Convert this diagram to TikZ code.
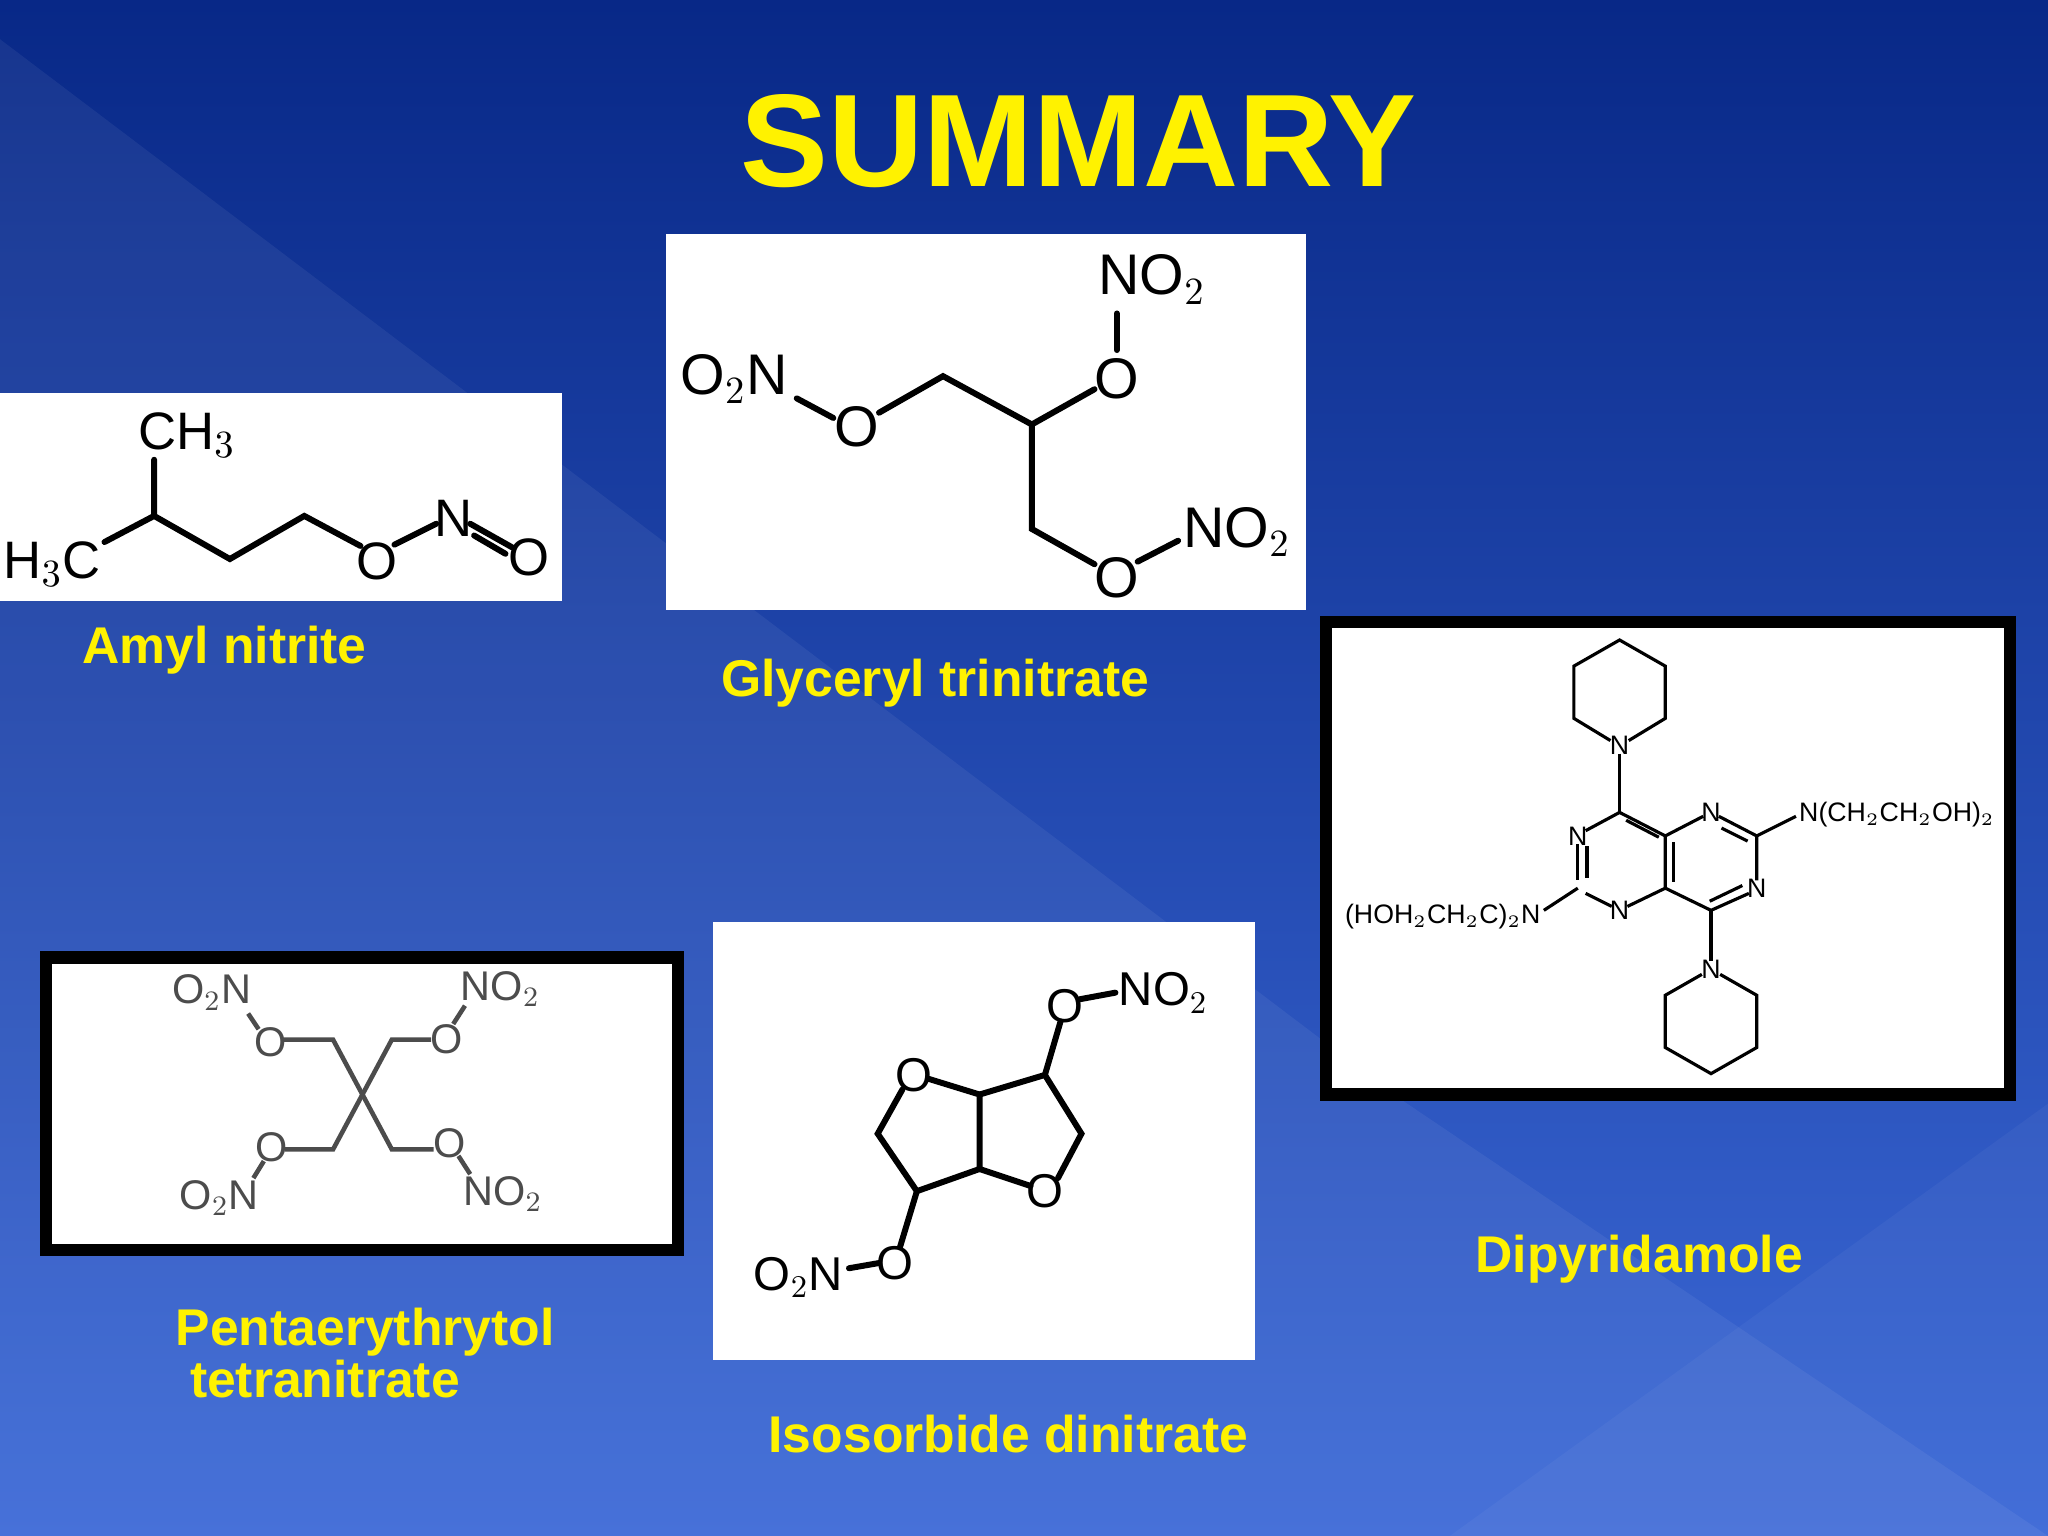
\documentclass[tikz,border=0pt]{standalone}
\usepackage{fontspec}
\setmainfont{Liberation Sans}
\begin{document}
\begin{tikzpicture}[x=0.013061cm,y=-0.013061cm,
 lbl/.style={text=yellow,font=\bfseries\fontsize{14.7}{17}\selectfont,align=left},
 at1/.style={inner sep=0pt,font=\fontsize{15}{17}\selectfont},
 at5/.style={inner sep=0pt,font=\fontsize{13.5}{15}\selectfont},
 at2/.style={inner sep=0pt,font=\fontsize{16.3}{18}\selectfont},
 at3/.style={inner sep=0pt,font=\fontsize{7.6}{9}\selectfont},
 at4/.style={inner sep=0pt,text=black!70,font=\fontsize{11.8}{13}\selectfont},
 bd/.style={line width=1.7pt,line cap=round},
 bd3/.style={line width=0.9pt},
 bd4/.style={line width=1.3pt,black!70}]
\useasboundingbox (0,0) rectangle (1568,1176);
\shade[top color={rgb,255:red,8;green,40;blue,135},bottom color={rgb,255:red,60;green,105;blue,215}] (0,0) rectangle (1568,1176);
\fill[white,opacity=0.06] (0,30) -- (1070,840) -- (1568,1176) -- (0,1176) -- cycle;
\fill[white,opacity=0.04] (1568,845) -- (1110,1176) -- (1568,1176) -- cycle;
\node[text=yellow,font=\bfseries\fontsize{37.5}{40}\selectfont] (title) at (826,108) {SUMMARY};

% Amyl nitrite
\fill[white] (0,301) rectangle (430,460);
\node[at1] (a1) at (40,432) {H$_3$C};
\node[at1] (a2) at (143,333) {CH$_3$};
\node[at1] (a3) at (289,430) {O};
\node[at1] (a4) at (347,397) {N};
\node[at1] (a5) at (405,427) {O};
\draw[bd] (80,415) -- (118,395) -- (118,352);
\draw[bd] (118,395) -- (176,428) -- (233,395) -- (276,418);
\draw[bd] (302,417) -- (334,401);
\draw[bd] (360,401) -- (392,419);
\draw[bd] (363,410) -- (387,424);
\node[lbl] (l1) at (172,498) {Amyl nitrite};

% Glyceryl trinitrate
\fill[white] (510,179) rectangle (1000,467);
\node[at2] (g1) at (562,290) {O$_2$N};
\node[at2] (g2) at (656,327) {O};
\node[at2] (g3) at (855,290) {O};
\node[at2] (g4) at (882,214) {NO$_2$};
\node[at2] (g5) at (855,442) {O};
\node[at2] (g6) at (947,407) {NO$_2$};
\draw[bd] (610,305) -- (638,320);
\draw[bd] (673,316) -- (722,288) -- (790,325) -- (838,298);
\draw[bd] (855,268) -- (855,240);
\draw[bd] (790,325) -- (790,405) -- (838,432);
\draw[bd] (871,430) -- (902,414);
\node[lbl] (l2) at (716,523) {Glyceryl trinitrate};

% Dipyridamole
\draw[line width=3.5pt,fill=white] (1015,476) rectangle (1539,838);
\node[at3] (d1) at (1240,571) {N};
\node[at3] (d2) at (1310,742) {N};
\node[at3] (d3) at (1208,640) {N};
\node[at3] (d4) at (1240,697) {N};
\node[at3] (d5) at (1310,622) {N};
\node[at3] (d6) at (1345,680) {N};
\node[at3,anchor=west] (d7) at (1377,624) {N(CH$_2$CH$_2$OH)$_2$};
\node[at3,anchor=east] (d8) at (1180,702) {(HOH$_2$CH$_2$C)$_2$N};
\draw[bd3] (1233,567) -- (1205,550) -- (1205,510) -- (1240,490) -- (1275,510) -- (1275,550) -- (1247,567);
\draw[bd3] (1240,577) -- (1240,622);
\draw[bd3] (1303,746) -- (1275,762) -- (1275,802) -- (1310,822) -- (1345,802) -- (1345,762) -- (1317,746);
\draw[bd3] (1310,736) -- (1310,697);
\draw[bd3] (1214,636) -- (1240,622) -- (1275,640) -- (1275,680) -- (1246,694);
\draw[bd3] (1208,646) -- (1208,674);
\draw[bd3] (1214,684) -- (1234,694);
\draw[bd3] (1275,640) -- (1304,625);
\draw[bd3] (1316,625) -- (1345,640) -- (1345,674);
\draw[bd3] (1339,684) -- (1310,697) -- (1275,680);
\draw[bd3] (1345,640) -- (1375,625);
\draw[bd3] (1208,680) -- (1182,697);
\draw[bd3] (1245,628) -- (1270,641);
\draw[bd3] (1215,648) -- (1215,672);
\draw[bd3] (1281,675) -- (1281,645);
\draw[bd3] (1318,634) -- (1338,644);
\draw[bd3] (1309,690) -- (1334,678);
\node[lbl] (l3) at (1255,964) {Dipyridamole};

% PETN
\draw[line width=3.5pt,fill=white] (35,733) rectangle (519,957);
\node[at4] (p1) at (162,760) {O$_2$N};
\node[at4] (p2) at (207,798) {O};
\node[at4] (p3) at (383,757) {NO$_2$};
\node[at4] (p4) at (342,796) {O};
\node[at4] (p5) at (208,878) {O};
\node[at4] (p6) at (168,917) {O$_2$N};
\node[at4] (p7) at (344,875) {O};
\node[at4] (p8) at (385,914) {NO$_2$};
\draw[bd4] (217,796) -- (255,796) -- (300,880) -- (332,880);
\draw[bd4] (218,880) -- (255,880) -- (300,796) -- (330,796);
\draw[bd4] (198,788) -- (190,776);
\draw[bd4] (347,784) -- (356,770);
\draw[bd4] (202,889) -- (194,902);
\draw[bd4] (351,885) -- (360,899);
\node[lbl,anchor=west] (l4) at (125,1036) {Pentaerythrytol\\[-2pt]\ tetranitrate};

% Isosorbide dinitrate
\fill[white] (546,706) rectangle (961,1041);
\node[at5] (s1) at (700,823) {O};
\node[at5] (s2) at (800,912) {O};
\node[at5] (s3) at (815,770) {O};
\node[at5,anchor=west] (s4) at (856,760) {NO$_2$};
\node[at5] (s5) at (685,967) {O};
\node[at5,anchor=east] (s6) at (646,978) {O$_2$N};
\draw[bd] (711,826) -- (750,838) -- (750,895) -- (702,912) -- (672,868) -- (691,834);
\draw[bd] (750,838) -- (800,823) -- (828,868) -- (810,902);
\draw[bd] (789,908) -- (750,895);
\draw[bd] (800,823) -- (812,782);
\draw[bd] (827,765) -- (854,760);
\draw[bd] (702,912) -- (689,955);
\draw[bd] (650,971) -- (673,967);
\node[lbl] (l5) at (772,1098) {Isosorbide dinitrate};
\end{tikzpicture}
\end{document}
